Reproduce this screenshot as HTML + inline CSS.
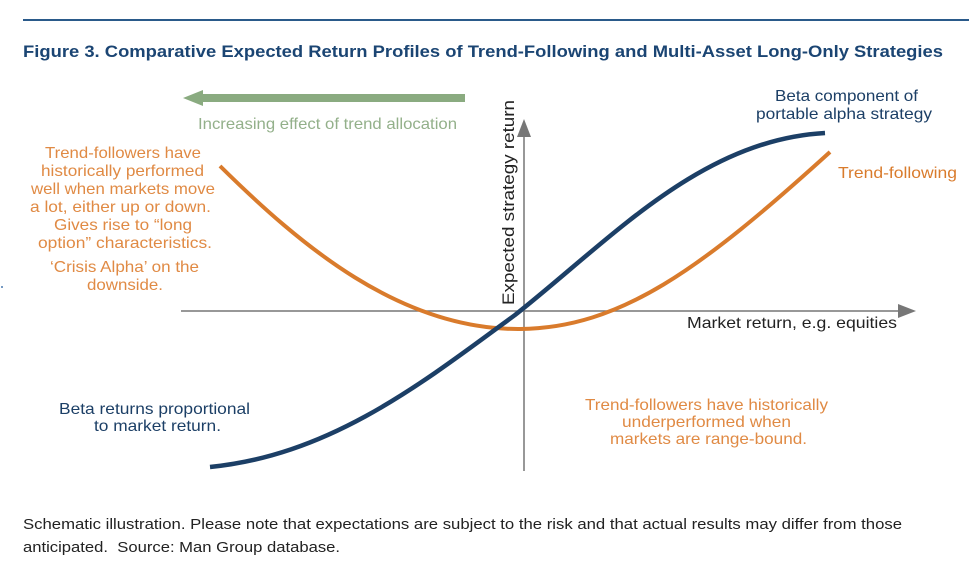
<!DOCTYPE html>
<html><head><meta charset="utf-8"><style>
html,body{margin:0;padding:0;background:#fff;}
svg{display:block;font-family:"Liberation Sans",sans-serif;}
</style></head><body>
<svg width="969" height="578" viewBox="0 0 969 578" xmlns="http://www.w3.org/2000/svg">
<rect width="969" height="578" fill="#fff"/>
<line x1="23" y1="20" x2="969" y2="20" stroke="#2a5a8a" stroke-width="2"/>
<text x="23" y="57" font-size="17" font-weight="bold" fill="#1b4573" textLength="920" lengthAdjust="spacingAndGlyphs">Figure 3. Comparative Expected Return Profiles of Trend-Following and Multi-Asset Long-Only Strategies</text>
<line x1="200" y1="98" x2="465" y2="98" stroke="#8aab80" stroke-width="8"/>
<polygon points="183,98 203,90 203,106" fill="#8aab80"/>
<text x="198" y="129" font-size="16" fill="#93b08a" textLength="259" lengthAdjust="spacingAndGlyphs">Increasing effect of trend allocation</text>
<line x1="181" y1="311" x2="902" y2="311" stroke="#777" stroke-width="1.5"/>
<polygon points="916,311 898,304 898,318" fill="#777"/>
<line x1="524" y1="135" x2="524" y2="471" stroke="#777" stroke-width="1.5"/>
<polygon points="524,119 517,137 531,137" fill="#777"/>
<text transform="translate(514,305) rotate(-90)" font-size="17" fill="#222" textLength="205" lengthAdjust="spacingAndGlyphs">Expected strategy return</text>
<text x="687" y="328" font-size="16" fill="#222" textLength="210" lengthAdjust="spacingAndGlyphs">Market return, e.g. equities</text>
<path d="M220,166 C300,245 400,330 520,329 C620,328 700,270 830,152" fill="none" stroke="#d97b2c" stroke-width="4"/>
<path d="M210,467 C330,455 420,385 515,315 C610,240 700,140 825,133" fill="none" stroke="#1c3f66" stroke-width="4.5"/>
<g font-size="16" fill="#1c3f66" lengthAdjust="spacingAndGlyphs">
<text x="775" y="101" textLength="143" lengthAdjust="spacingAndGlyphs">Beta component of</text>
<text x="756" y="119" textLength="176" lengthAdjust="spacingAndGlyphs">portable alpha strategy</text>
<text x="59" y="414" textLength="191" lengthAdjust="spacingAndGlyphs">Beta returns proportional</text>
<text x="94" y="431" textLength="127" lengthAdjust="spacingAndGlyphs">to market return.</text>
</g>
<text x="838" y="178" font-size="16" fill="#d97b2c" textLength="119" lengthAdjust="spacingAndGlyphs">Trend-following</text>
<g font-size="16" fill="#e08a44">
<text x="45" y="158" textLength="156" lengthAdjust="spacingAndGlyphs">Trend-followers have</text>
<text x="41" y="176" textLength="163" lengthAdjust="spacingAndGlyphs">historically performed</text>
<text x="31" y="194" textLength="184" lengthAdjust="spacingAndGlyphs">well when markets move</text>
<text x="30" y="212" textLength="181" lengthAdjust="spacingAndGlyphs">a lot, either up or down.</text>
<text x="54" y="230" textLength="138" lengthAdjust="spacingAndGlyphs">Gives rise to “long</text>
<text x="38" y="248" textLength="174" lengthAdjust="spacingAndGlyphs">option” characteristics.</text>
<text x="50" y="272" textLength="149" lengthAdjust="spacingAndGlyphs">‘Crisis Alpha’ on the</text>
<text x="87" y="290" textLength="76" lengthAdjust="spacingAndGlyphs">downside.</text>
<text x="585" y="410" textLength="243" lengthAdjust="spacingAndGlyphs">Trend-followers have historically</text>
<text x="622" y="427" textLength="169" lengthAdjust="spacingAndGlyphs">underperformed when</text>
<text x="610" y="444" textLength="197" lengthAdjust="spacingAndGlyphs">markets are range-bound.</text>
</g>
<g font-size="15" fill="#222">
<text x="23" y="529" textLength="879" lengthAdjust="spacingAndGlyphs">Schematic illustration. Please note that expectations are subject to the risk and that actual results may differ from those</text>
<text x="23" y="552" textLength="317" lengthAdjust="spacingAndGlyphs" xml:space="preserve">anticipated.  Source: Man Group database.</text>
</g>
<circle cx="2" cy="287" r="1" fill="#4a7ab0"/>
</svg>
</body></html>
